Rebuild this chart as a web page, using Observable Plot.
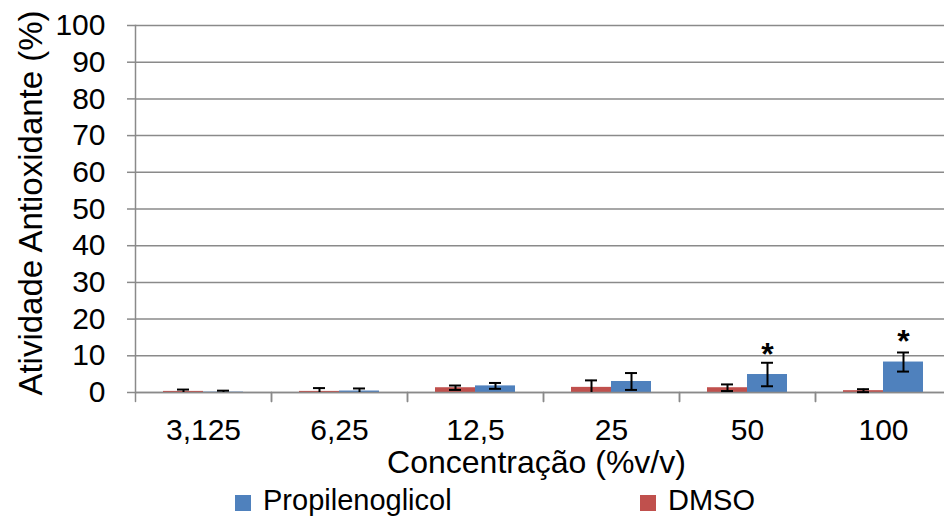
<!DOCTYPE html>
<html>
<head>
<meta charset="utf-8">
<script src="https://cdn.jsdelivr.net/npm/d3@7"></script>
<script src="https://cdn.jsdelivr.net/npm/@observablehq/plot@0.6"></script>
<style>
  html, body { margin: 0; padding: 0; background: white; overflow: hidden; }
  #wrap { position: relative; width: 944px; height: 517px; overflow: hidden; }
  .legend-item { position: absolute; top: 486px; display: flex; align-items: flex-start;
    font-family: Arial, "Liberation Sans", sans-serif; font-size: 29px; line-height: 1; color: #000; white-space: nowrap; }
  .legend-swatch { width: 16px; height: 16px; margin-top: 9px; margin-right: 12px; }
</style>
</head>
<body>
<div id="wrap"></div>
<script>
// ---- data ----
const categories = ["3,125", "6,25", "12,5", "25", "50", "100"];
const seriesNames = ["DMSO", "Propilenoglicol"];
const seriesColors = ["#C0504D", "#4F81BD"];
const dmsoMean = [0.3, 0.3, 1.3, 1.4, 1.3, 0.5];
const dmsoErr  = [0.5, 0.9, 0.6, 1.9, 0.9, 0.4];
const propMean = [0.1, 0.4, 1.8, 3.0, 4.9, 8.3];
const propErr  = [0.4, 0.7, 0.8, 2.3, 3.2, 2.6];
const significant = ["50", "100"];
const yTicks = [0, 10, 20, 30, 40, 50, 60, 70, 80, 90, 100];
const yLabel = "Atividade Antioxidante (%)";
const xLabel = "Concentração (%v/v)";
const legendOrder = ["Propilenoglicol", "DMSO"];
const legendLeft = [235, 640];

const rows = categories.flatMap((c, i) => [
  {conc: c, serie: "DMSO", mean: dmsoMean[i], err: dmsoErr[i]},
  {conc: c, serie: "Propilenoglicol", mean: propMean[i], err: propErr[i]}
]);

const gray = "#8a8a8a";
const font = "Arial, 'Liberation Sans', sans-serif";
const lineShape = {draw(context, l) { context.moveTo(0, 0); context.lineTo(0, -l); }};

const chart = Plot.plot({
  width: 952,
  height: 517,
  marginLeft: 133,
  marginRight: 0,
  marginTop: 25,
  marginBottom: 125,
  style: {fontFamily: font, fontSize: "30px", color: "#000", background: "white", maxWidth: "none"},
  fx: {domain: categories, padding: 0},
  x: {domain: seriesNames, paddingInner: 0, paddingOuter: 0.7, axis: null},
  y: {domain: [0, 100]},
  color: {domain: seriesNames, range: seriesColors},
  marks: [
    Plot.gridY(yTicks, {stroke: gray, strokeOpacity: 1, strokeWidth: 1.5}),
    Plot.barY(rows, {fx: "conc", x: "serie", y: "mean", fill: "serie"}),
    Plot.ruleY([0], {stroke: gray, strokeWidth: 1.5}),
    Plot.ruleX(rows, {fx: "conc", x: "serie", y1: d => Math.max(0, d.mean - d.err), y2: d => d.mean + d.err, stroke: "black", strokeWidth: 2}),
    Plot.tickY(rows, {fx: "conc", x: "serie", y: d => d.mean + d.err, insetLeft: 14, insetRight: 14, stroke: "black", strokeWidth: 2}),
    Plot.tickY(rows.filter(d => d.mean - d.err > 0), {fx: "conc", x: "serie", y: d => d.mean - d.err, insetLeft: 14, insetRight: 14, stroke: "black", strokeWidth: 2}),
    Plot.text(rows.filter(d => d.serie === "Propilenoglicol" && significant.includes(d.conc)),
      {fx: "conc", x: "serie", y: "mean", text: () => "*", fontWeight: "bold", fontSize: 32, lineAnchor: "bottom", dy: -10, fill: "black"}),
    Plot.frame({anchor: "left", facetAnchor: "left", stroke: gray, strokeWidth: 1.5}),
    Plot.vector(categories, {fx: d => d, frameAnchor: "bottom-left", length: 9, rotate: 180, anchor: "start", shape: lineShape, stroke: gray, strokeWidth: 1.5}),
    Plot.vector(categories, {fx: d => d, frameAnchor: "bottom-right", length: 9, rotate: 180, anchor: "start", shape: lineShape, stroke: gray, strokeWidth: 1.5}),
    Plot.axisY(yTicks, {tickSize: 8, tickPadding: 22, fontSize: 30, stroke: gray, strokeWidth: 1.5, label: null}),
    Plot.text([yLabel], {text: d => d, frameAnchor: "left", facetAnchor: "left", rotate: -90, dx: -104, dy: -6, fontSize: 33, lineAnchor: "middle", textAnchor: "middle", fill: "black"}),
    Plot.axisFx({anchor: "bottom", tickSize: 0, tickPadding: 26, fontSize: 30, label: null}),
    Plot.text([xLabel], {text: d => d, frameAnchor: "bottom", facet: "super", dx: -7, dy: 70, fontSize: 32, lineAnchor: "middle", fill: "black"})
  ]
});

const wrap = document.getElementById("wrap");
wrap.appendChild(chart);

legendOrder.forEach((name, i) => {
  const item = document.createElement("div");
  item.className = "legend-item";
  item.style.left = legendLeft[i] + "px";
  const sw = document.createElement("span");
  sw.className = "legend-swatch";
  sw.style.background = seriesColors[seriesNames.indexOf(name)];
  const tx = document.createElement("span");
  tx.textContent = name;
  item.appendChild(sw);
  item.appendChild(tx);
  wrap.appendChild(item);
});
</script>
</body>
</html>
